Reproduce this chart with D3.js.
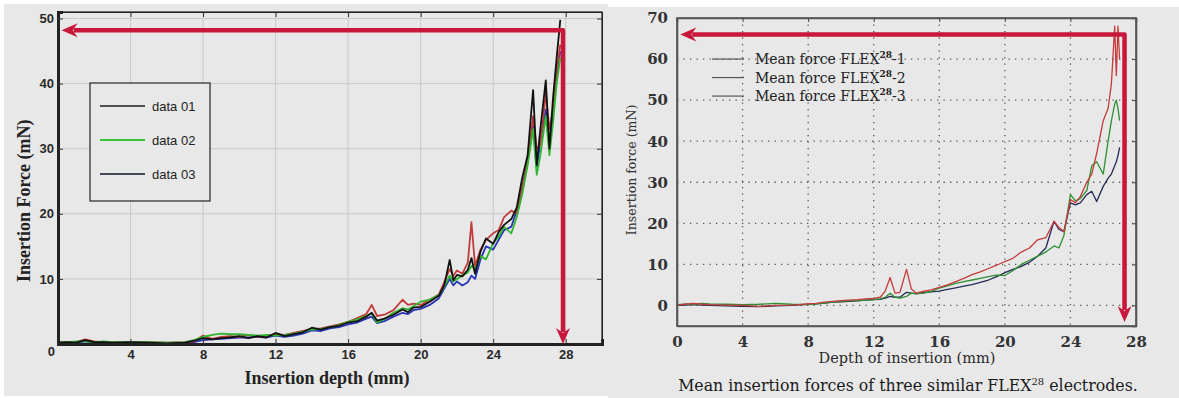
<!DOCTYPE html>
<html>
<head>
<meta charset="utf-8">
<script src="https://cdn.jsdelivr.net/npm/d3@7"></script>
<style>
  body { margin: 0; background: #fff; }
  svg { display: block; }
</style>
</head>
<body>
<svg id="chart" width="1179" height="398"></svg>
<script>
// ---- left panel data (insertion depth in mm, force in mN)
const leftDepth = [0, 0.5, 1, 1.5, 2, 2.5, 3, 4, 5, 6, 7, 7.5, 8, 8.5, 9, 9.5, 10, 10.5, 11, 11.5, 12,
  12.5, 13, 13.5, 14, 14.5, 15, 15.5, 16, 16.5, 17, 17.3, 17.6, 18, 18.5, 19, 19.3, 19.6, 20,
  20.5, 21, 21.3, 21.6, 21.8, 22, 22.3, 22.6, 22.8, 23, 23.3, 23.6, 24, 24.3, 24.6, 25, 25.3,
  25.6, 25.9, 26.2, 26.4, 26.6, 26.9, 27.1, 27.3, 27.5, 27.7];
const leftBlack = [0.2, 0.3, 0.2, 0.6, 0.3, 0.3, 0.2, 0.3, 0.2, 0.1, 0.2,
  0.5, 0.9, 0.7, 0.9, 1.0, 1.2, 0.9, 1.2, 1.0, 1.7,
  1.2, 1.5, 1.8, 2.5, 2.2, 2.6, 2.8, 3.3, 3.5, 4.2,
  4.8, 3.6, 3.9, 4.5, 5.3, 4.9, 5.6, 5.7,
  6.5, 7.4, 9.0, 12.9, 9.8, 10.6, 10.4, 11.4, 13.2, 10.8,
  14.2, 16.2, 15.4, 17.2, 18.3, 19.2, 21.0, 25.5, 29.0, 39.0,
  27.5, 33.0, 40.5, 30.0, 37.8, 44.0, 49.8];
const leftRed = [0.2, 0.3, 0.3, 0.7, 0.4, 0.2, 0.3, 0.2, 0.3, 0.2, 0.3,
  0.4, 1.3, 0.8, 1.1, 1.2, 1.1, 1.4, 1.1, 1.3, 1.5,
  1.4, 1.7, 2.0, 2.3, 2.4, 2.7, 3.0, 3.4, 4.0, 4.6,
  6.0, 4.3, 4.5, 5.2, 6.8, 6.0, 6.2, 6.0,
  6.8, 7.6, 9.5, 11.5, 10.5, 11.3, 10.8, 12.5, 18.7, 12.0,
  14.5, 16.0, 17.0, 17.5, 19.5, 20.5, 20.0, 24.0, 28.0, 35.0,
  30.0, 30.5, 38.5, 33.0, 36.0, 42.0, 46.0];
const leftGreen = [0.3, 0.3, 0.4, 0.4, 0.3, 0.4, 0.3, 0.3, 0.3, 0.2, 0.3,
  0.6, 1.1, 1.4, 1.6, 1.5, 1.5, 1.4, 1.3, 1.4, 1.3,
  1.4, 1.6, 1.9, 2.2, 2.3, 2.6, 2.9, 3.4, 3.8, 4.3,
  4.7, 3.3, 3.8, 4.8, 5.5, 5.3, 5.8, 6.5,
  6.8, 7.5, 8.8, 10.5, 9.6, 10.0, 10.5, 11.0, 12.0, 11.5,
  13.5, 13.0, 15.5, 16.5, 18.0, 17.0, 19.5, 23.0, 27.5, 33.0,
  26.0, 29.0, 35.0, 29.0, 34.0, 40.0, 44.0];
const leftBlue = [0.1, 0.2, 0.2, 0.4, 0.2, 0.2, 0.2, 0.2, 0.1, 0.1, 0.1,
  0.3, 0.6, 0.7, 0.8, 0.9, 1.0, 1.0, 1.1, 1.0, 1.3,
  1.1, 1.3, 1.6, 2.1, 2.0, 2.4, 2.6, 3.0, 3.3, 3.9,
  4.2, 3.2, 3.5, 4.2, 4.8, 4.6, 5.2, 5.4,
  6.0, 7.0, 8.5, 10.0, 9.0, 9.6, 9.0, 9.5, 10.5, 10.0,
  13.0, 15.0, 14.5, 16.0, 17.5, 18.0, 20.5, 24.0, 28.0, 33.5,
  27.0, 31.0, 36.0, 30.0, 35.5, 41.0, 45.0];
const leftLegend = ['data 01', 'data 02', 'data 03'];
const leftXTicks = [0, 4, 8, 12, 16, 20, 24, 28];
const leftYTicks = [0, 10, 20, 30, 40, 50];
const leftArrow = [27.85, 48.2]; // depth, force

// ---- right panel data
const rightDepth = [0, 0.5, 1, 1.5, 2, 3, 4, 5, 6, 7, 8, 8.5, 9, 9.5, 10, 10.5, 11, 11.5, 12,
  12.4, 12.7, 13, 13.3, 13.6, 14, 14.3, 14.6, 15, 15.5, 16, 16.5, 17, 17.5, 18, 18.5, 19,
  19.5, 20, 20.5, 21, 21.5, 22, 22.5, 23, 23.3, 23.6, 24, 24.3, 24.6, 25, 25.3, 25.6, 26,
  26.3, 26.5, 26.7, 26.8, 26.9, 27.0];
const rightRed = [0.2, 0.3, 0.5, 0.3, 0.2, 0.1, 0.0, -0.2, 0.0, 0.1, 0.4,
  0.5, 0.8, 1.0, 1.2, 1.3, 1.4, 1.6, 1.7,
  2.0, 3.5, 6.8, 3.0, 3.2, 8.8, 4.0, 3.0,
  3.4, 3.8, 4.4, 5.0, 5.8, 6.6, 7.5, 8.2, 9.0, 9.8, 10.7,
  11.5, 13.0, 14.0, 16.0, 16.5, 20.5,
  19.0, 18.0, 25.8, 25.0, 26.5, 30.0, 32.0, 37.0, 45.0,
  48.0, 54.0, 68.0, 56.0, 68.0, 60.0];
const rightGreen = [0.1, 0.4, 0.3, 0.5, 0.4, 0.3, 0.2, 0.3, 0.5, 0.3, 0.2,
  0.4, 0.6, 0.8, 1.0, 1.1, 1.2, 1.3, 1.4,
  1.6, 2.0, 3.0, 2.0, 1.8, 2.2, 3.0, 2.8,
  3.0, 3.4, 4.2, 4.8, 5.4, 5.8, 6.2, 6.6, 7.0, 7.4, 7.3,
  8.5, 10.0, 11.0, 12.0, 13.0, 14.5,
  14.0, 17.0, 27.0, 25.5, 26.0, 28.0, 34.0, 35.0, 32.0,
  40.0, 45.0, 49.0, 50.0, 48.0, 45.0];
const rightNavy = [0.0, 0.1, 0.2, 0.1, 0.0, -0.1, -0.2, -0.3, -0.1, 0.0, 0.3,
  0.4, 0.6, 0.8, 0.9, 1.0, 1.1, 1.3, 1.4,
  1.5, 1.8, 2.2, 2.0, 2.0, 3.2, 3.0, 2.9,
  3.1, 3.3, 3.5, 3.9, 4.3, 4.7, 5.1, 5.6, 6.2, 7.0, 8.0,
  8.8, 9.5, 10.5, 12.0, 14.0, 20.5,
  18.5, 18.0, 25.0, 24.5, 25.0, 27.0, 27.8, 25.3, 29.0,
  31.0, 32.0, 34.0, 35.0, 36.5, 38.5];
const rightLegend = ['-1', '-2', '-3'];
const rightXTicks = [0, 4, 8, 12, 16, 20, 24, 28];
const rightYTicks = [0, 10, 20, 30, 40, 50, 60, 70];
const rightArrow = [27.3, 66]; // depth, force

const RED = '#c8173a';
const svg = d3.select('#chart');

svg.append('rect').attr('x', 0).attr('y', 0).attr('width', 1179).attr('height', 398).attr('fill', '#fff');
svg.append('rect').attr('x', 4).attr('y', 4).attr('width', 604).attr('height', 392).attr('fill', '#e8e8e8');
svg.append('rect').attr('x', 608).attr('y', 7).attr('width', 571).attr('height', 391).attr('fill', '#e8e8e8');

function arrowHead(g, tipX, tipY, dir) {
  // dir: 'left' or 'down'; concave head
  const L = 16, W = 7, N = 5;
  let pts;
  if (dir === 'left') {
    pts = [[tipX, tipY], [tipX + L, tipY - W], [tipX + L - N, tipY], [tipX + L, tipY + W]];
  } else {
    pts = [[tipX, tipY], [tipX - W, tipY - L], [tipX, tipY - L + N], [tipX + W, tipY - L]];
  }
  g.append('polygon').attr('points', pts.map(p => p.join(',')).join(' ')).attr('fill', RED);
}

// ================= LEFT PANEL =================
const xL = d3.scaleLinear().domain([0, 30]).range([58, 602]);
const yL = d3.scaleLinear().domain([0, 51]).range([344, 12]);
const gL = svg.append('g');

// grid
gL.append('g').selectAll('line').data(leftXTicks.filter(d => d > 0)).enter().append('line')
  .attr('x1', d => xL(d)).attr('x2', d => xL(d)).attr('y1', yL(51)).attr('y2', yL(0))
  .attr('stroke', '#c9c9c9').attr('stroke-width', 1);
gL.append('g').selectAll('line').data(leftYTicks.filter(d => d > 0)).enter().append('line')
  .attr('x1', xL(0)).attr('x2', xL(30)).attr('y1', d => yL(d)).attr('y2', d => yL(d))
  .attr('stroke', '#c9c9c9').attr('stroke-width', 1);

// series
const lineL = d3.line().x((d, i) => xL(leftDepth[i])).y(d => yL(d));
[[leftBlue, '#2633b8'], [leftRed, '#c23b3b'], [leftGreen, '#2fb52f'], [leftBlack, '#111']].forEach(s => {
  gL.append('path').datum(s[0]).attr('d', lineL).attr('fill', 'none')
    .attr('stroke', s[1]).attr('stroke-width', 1.8).attr('stroke-linejoin', 'round');
});

// frame + ticks
gL.append('rect').attr('x', xL(0)).attr('y', yL(51)).attr('width', xL(30) - xL(0)).attr('height', yL(0) - yL(51))
  .attr('fill', 'none').attr('stroke', '#444').attr('stroke-width', 1.5);
const axLeftL = gL.append('g').attr('transform', 'translate(' + xL(0) + ',0)')
  .call(d3.axisLeft(yL).tickValues(leftYTicks).tickSize(-5).tickPadding(4));
const axBotL = gL.append('g').attr('transform', 'translate(0,' + yL(0) + ')')
  .call(d3.axisBottom(xL).tickValues(leftXTicks.filter(d => d > 0)).tickSize(-5).tickPadding(6));
gL.append('g').attr('transform', 'translate(0,' + yL(51) + ')')
  .call(d3.axisTop(xL).tickValues(leftXTicks.filter(d => d > 0)).tickSize(-5).tickFormat(''));
gL.append('g').attr('transform', 'translate(' + xL(30) + ',0)')
  .call(d3.axisRight(yL).tickValues(leftYTicks.filter(d => d > 0)).tickSize(-5).tickFormat(''));
gL.selectAll('.domain').attr('stroke', '#222');
axLeftL.select('.domain').attr('stroke-width', 3);
axBotL.select('.domain').attr('stroke-width', 3);
gL.selectAll('.tick line').attr('stroke', '#333');
[axLeftL, axBotL].forEach(a => a.selectAll('text')
  .attr('font-family', 'Liberation Sans, Arial, sans-serif').attr('font-weight', 'bold')
  .attr('font-size', 13).attr('fill', '#2a2a2a'));
axLeftL.selectAll('.tick').filter(d => d === 0).select('text').attr('dy', '0.9em').attr('x', -3);

// axis titles
gL.append('text').attr('x', 327).attr('y', 384).attr('text-anchor', 'middle')
  .attr('font-family', 'Liberation Serif, Times New Roman, serif').attr('font-weight', 'bold')
  .attr('font-size', 18).attr('fill', '#222').text('Insertion depth (mm)');
gL.append('text').attr('transform', 'translate(30,' + yL(22) + ') rotate(-90)').attr('text-anchor', 'middle')
  .attr('font-family', 'Liberation Serif, Times New Roman, serif').attr('font-weight', 'bold')
  .attr('font-size', 18).attr('fill', '#222').text('Insertion Force (mN)');

// legend
const legL = gL.append('g');
legL.append('rect').attr('x', 90).attr('y', 83).attr('width', 120).attr('height', 118)
  .attr('fill', '#e8e8e8').attr('stroke', '#333').attr('stroke-width', 1.3);
const legLColors = ['#505050', '#3cc43c', '#454a5c'];
leftLegend.forEach((name, i) => {
  const ly = 106 + i * 34;
  legL.append('line').attr('x1', 100).attr('x2', 145).attr('y1', ly).attr('y2', ly)
    .attr('stroke', legLColors[i]).attr('stroke-width', 2);
  legL.append('text').attr('x', 152).attr('y', ly + 4.5)
    .attr('font-family', 'Liberation Sans, Arial, sans-serif').attr('font-size', 13)
    .attr('fill', '#222').text(name);
});

// red arrow
const arL = gL.append('g');
arL.append('path').attr('d', 'M' + (xL(0.2) + 12) + ',' + yL(leftArrow[1]) + ' H' + xL(leftArrow[0]) + ' V' + (yL(0) - 12))
  .attr('fill', 'none').attr('stroke', RED).attr('stroke-width', 4.5).attr('stroke-linejoin', 'round');
arrowHead(arL, xL(0.2), yL(leftArrow[1]), 'left');
arrowHead(arL, xL(leftArrow[0]), yL(0), 'down');

// ================= RIGHT PANEL =================
const xR = d3.scaleLinear().domain([0, 28]).range([677, 1136]);
const yR = d3.scaleLinear().domain([-5, 70]).range([326, 18]);
const gR = svg.append('g');
const serif = 'DejaVu Serif, Georgia, serif';

// dotted grid
gR.append('g').selectAll('line').data(rightXTicks.filter(d => d > 0 && d < 28)).enter().append('line')
  .attr('x1', d => xR(d)).attr('x2', d => xR(d)).attr('y1', yR(70)).attr('y2', yR(-5))
  .attr('stroke', '#555').attr('stroke-width', 1.3).attr('stroke-dasharray', '1.3,5.2');
gR.append('g').selectAll('line').data(rightYTicks.filter(d => d < 70)).enter().append('line')
  .attr('x1', xR(0)).attr('x2', xR(28)).attr('y1', d => yR(d)).attr('y2', d => yR(d))
  .attr('stroke', '#555').attr('stroke-width', 1.3).attr('stroke-dasharray', '1.3,5.2');

// series
const lineR = d3.line().x((d, i) => xR(rightDepth[i])).y(d => yR(d));
[[rightNavy, '#252a55'], [rightGreen, '#2f8f34'], [rightRed, '#c53a3a']].forEach(s => {
  gR.append('path').datum(s[0]).attr('d', lineR).attr('fill', 'none')
    .attr('stroke', s[1]).attr('stroke-width', 1.3).attr('stroke-linejoin', 'round');
});

// frame + ticks
gR.append('rect').attr('x', xR(0)).attr('y', yR(70)).attr('width', xR(28) - xR(0)).attr('height', yR(-5) - yR(70))
  .attr('fill', 'none').attr('stroke', '#555').attr('stroke-width', 1.6);
const axLeftR = gR.append('g').attr('transform', 'translate(' + xR(0) + ',0)')
  .call(d3.axisLeft(yR).tickValues(rightYTicks).tickSize(0).tickPadding(9));
const axBotR = gR.append('g').attr('transform', 'translate(0,' + yR(-5) + ')')
  .call(d3.axisBottom(xR).tickValues(rightXTicks).tickSize(0).tickPadding(10));
gR.append('g').attr('transform', 'translate(0,' + yR(70) + ')')
  .call(d3.axisTop(xR).tickValues(rightXTicks.filter(d => d > 0 && d < 28)).tickSize(-4).tickFormat(''));
gR.append('g').attr('transform', 'translate(' + xR(28) + ',0)')
  .call(d3.axisRight(yR).tickValues(rightYTicks.filter(d => d < 70)).tickSize(-4).tickFormat(''));
gR.selectAll('.domain').attr('stroke', '#555').attr('stroke-width', 1.6);
gR.selectAll('.tick line').attr('stroke', '#444');
[axLeftR, axBotR].forEach(a => a.selectAll('text')
  .attr('font-family', serif).attr('font-weight', 'bold').attr('font-size', 15).attr('fill', '#333'));

// titles
gR.append('text').attr('x', 907).attr('y', 363).attr('text-anchor', 'middle')
  .attr('font-family', serif).attr('font-size', 14.5).attr('fill', '#2a2a2a').text('Depth of insertion (mm)');
gR.append('text').attr('transform', 'translate(636,' + yR(33) + ') rotate(-90)').attr('text-anchor', 'middle')
  .attr('font-family', serif).attr('font-size', 12.5).attr('fill', '#333').text('Insertion force (mN)');
const cap = gR.append('text').attr('x', 908).attr('y', 391).attr('text-anchor', 'middle')
  .attr('font-family', serif).attr('font-size', 15.8).attr('fill', '#1a1a1a');
cap.append('tspan').text('Mean insertion forces of three similar FLEX');
cap.append('tspan').attr('dy', -6).attr('font-size', 10).text('28');
cap.append('tspan').attr('dy', 6).text(' electrodes.');

// legend
rightLegend.forEach((suffix, i) => {
  const ly = yR(60) + i * 18.5;
  gR.append('line').attr('x1', 712).attr('x2', 744).attr('y1', ly).attr('y2', ly)
    .attr('stroke', '#555').attr('stroke-width', 1.2);
  const t = gR.append('text').attr('x', 755).attr('y', ly + 5)
    .attr('font-family', serif).attr('font-size', 14).attr('fill', '#222');
  t.append('tspan').text('Mean force FLEX');
  t.append('tspan').attr('dy', -6).attr('font-size', 9).attr('font-weight', 'bold').text('28');
  t.append('tspan').attr('dy', 6).text(suffix);
});

// red arrow
const arR = gR.append('g');
arR.append('path').attr('d', 'M' + (xR(0.2) + 12) + ',' + yR(rightArrow[1]) + ' H' + xR(rightArrow[0]) + ' V' + (yR(-4) - 12))
  .attr('fill', 'none').attr('stroke', RED).attr('stroke-width', 4.5).attr('stroke-linejoin', 'round');
arrowHead(arR, xR(0.2), yR(rightArrow[1]), 'left');
arrowHead(arR, xR(rightArrow[0]), yR(-4), 'down');
</script>
</body>
</html>
